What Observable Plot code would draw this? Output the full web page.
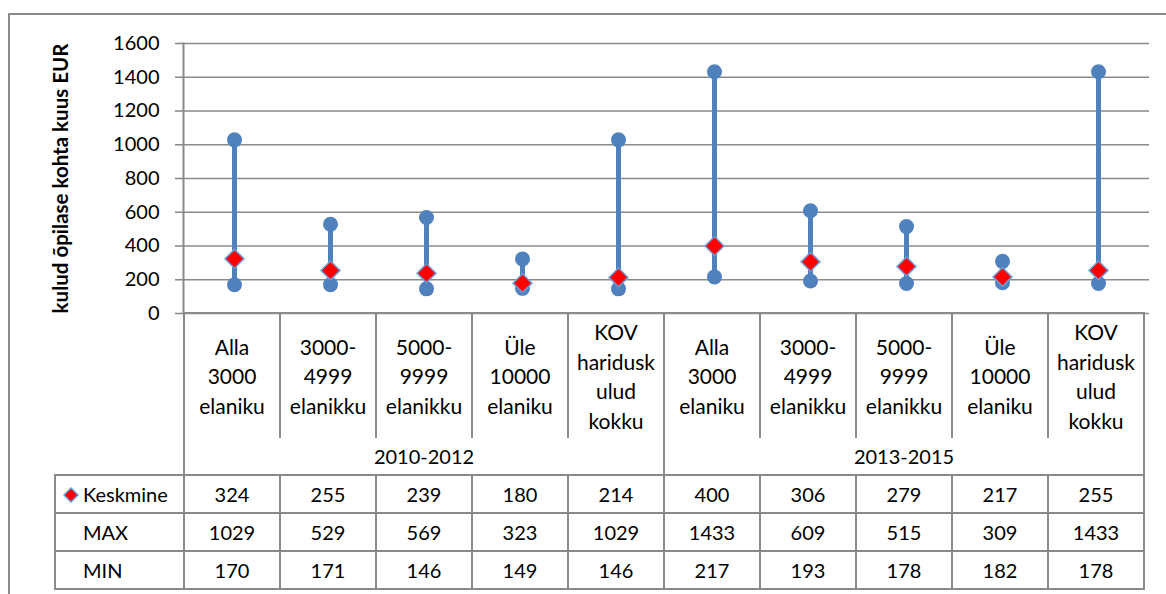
<!DOCTYPE html>
<html>
<head>
<meta charset="utf-8">
<script src="https://cdn.jsdelivr.net/npm/d3@7"></script>
<script src="https://cdn.jsdelivr.net/npm/@observablehq/plot@0.6"></script>
<style>
  html, body { margin: 0; padding: 0; background: #fff; }
  #wrap { position: relative; width: 1166px; height: 594px; overflow: hidden; font-family: Lato, "Open Sans", sans-serif; color: #000; }
  #frame { position: absolute; left: 8px; top: 13px; width: 1200px; height: 700px; border: 2px solid #8a8a8a; box-sizing: border-box; }
  #chart { position: absolute; left: 0; top: 0; }
  #tbl { position: absolute; left: 54px; top: 312px; border-collapse: collapse; table-layout: fixed; font-size: 20px; }
  #tbl td { padding: 0; text-align: center; vertical-align: middle; overflow: hidden; }
  #tbl td.cat { border-left: 2px solid #8a8a8a; border-right: 2px solid #8a8a8a; border-top: 2px solid #8a8a8a; white-space: pre-line; line-height: 29.5px; height: 124px; font-size: 21px; }
  #tbl td.grp { border-left: 2px solid #8a8a8a; border-right: 2px solid #8a8a8a; height: 36px; }
  #tbl td.val { border: 2px solid #8a8a8a; height: 36px; }
  #tbl td.rowlab { border: 2px solid #8a8a8a; text-align: left; padding-left: 27px; height: 36px; position: relative; }
  #tbl td.blank { border: none; }
  .leg { position: absolute; left: 7px; top: 11px; }
</style>
</head>
<body>
<div id="wrap">
  <div id="frame"></div>
  <div id="chart"></div>
  <table id="tbl"></table>
</div>
<script>
const periods = ["2010-2012", "2013-2015"];
const categories = ["Alla\n3000\nelaniku", "3000-\n4999\nelanikku", "5000-\n9999\nelanikku", "Üle\n10000\nelaniku", "KOV\nharidusk\nulud\nkokku"];
const keskmine = [324, 255, 239, 180, 214, 400, 306, 279, 217, 255];
const maxValues = [1029, 529, 569, 323, 1029, 1433, 609, 515, 309, 1433];
const minValues = [170, 171, 146, 149, 146, 217, 193, 178, 182, 178];
const yTicks = [0, 200, 400, 600, 800, 1000, 1200, 1400, 1600];
const yTitle = "kulud õpilase kohta kuus EUR";
const rowLabels = ["Keskmine", "MAX", "MIN"];

const data = [];
periods.forEach((p, pi) => categories.forEach((c, ci) => {
  const i = pi * categories.length + ci;
  data.push({key: p + "|" + c, period: p, cat: c, mean: keskmine[i], max: maxValues[i], min: minValues[i]});
}));

const blue = "#4F81BD";
const grid = "#8a8a8a";
const W = 1166, ML = 183, MR = 17;

const chart = Plot.plot({
  width: W,
  height: 320,
  marginTop: 43,
  marginLeft: ML,
  marginRight: MR,
  marginBottom: 7,
  style: {fontFamily: "Lato, 'Open Sans', sans-serif", fontSize: "20px", background: "transparent", overflow: "visible"},
  x: {type: "band", domain: data.map(d => d.key), padding: 0, axis: null},
  y: {domain: [0, 1600], ticks: yTicks},
  marks: [
    Plot.gridY(yTicks, {stroke: grid, strokeOpacity: 1, strokeWidth: 1.6}),
    Plot.axisY(yTicks, {tickSize: 8, tickPadding: 16, stroke: grid, strokeWidth: 1.6, fill: "#000", fontSize: 20,
      tickFormat: d => String(d),
      label: yTitle, labelAnchor: "center", labelArrow: "none", labelOffset: 130}),
    Plot.frame({anchor: "left", stroke: grid, strokeWidth: 2}),
    Plot.ruleX(data, {x: "key", y1: "min", y2: "max", stroke: blue, strokeWidth: 5}),
    Plot.dot(data, {x: "key", y: "min", r: 7.5, fill: blue}),
    Plot.dot(data, {x: "key", y: "max", r: 7.5, fill: blue}),
    Plot.dot(data, {x: "key", y: "mean", symbol: "diamond2", r: 8.5, fill: "#FF0000", stroke: "#6f9bd1", strokeWidth: 1.5})
  ]
});
document.getElementById("chart").appendChild(chart);

// style the axis title bold
d3.select(chart).selectAll("text").filter(function() { return d3.select(this).text() === yTitle; })
  .style("font-weight", "bold").style("font-size", "20.5px");

// table below the plot, aligned with the x scale bands
const xs = chart.scale("x");
let bw = xs && Number.isFinite(xs.bandwidth) && xs.bandwidth > 0 ? xs.bandwidth : (W - ML - MR) / data.length;
const tbl = d3.select("#tbl");
const firstW = 129;
const tw = firstW + bw * data.length;
tbl.style("width", tw + "px");
const cg = tbl.append("colgroup");
cg.append("col").attr("width", firstW).style("width", firstW + "px");
data.forEach(() => cg.append("col").attr("width", bw).style("width", bw + "px"));
const tb = tbl.append("tbody");

const r1 = tb.append("tr");
r1.append("td").attr("class", "blank");
data.forEach(d => r1.append("td").attr("class", "cat").text(d.cat));

const r2 = tb.append("tr");
r2.append("td").attr("class", "blank");
periods.forEach(p => r2.append("td").attr("class", "grp").attr("colspan", categories.length).text(p));

const rows = [keskmine, maxValues, minValues];
rows.forEach((vals, ri) => {
  const tr = tb.append("tr");
  const lab = tr.append("td").attr("class", "rowlab").text(rowLabels[ri]);
  if (ri === 0) {
    lab.append(() => {
      const s = d3.create("svg").attr("class", "leg").attr("width", 16).attr("height", 16);
      s.append("path").attr("d", "M8,1 L15,8 L8,15 L1,8 Z").attr("fill", "#FF0000").attr("stroke", "#6f9bd1").attr("stroke-width", 1.5);
      return s.node();
    });
  }
  vals.forEach(v => tr.append("td").attr("class", "val").text(v));
});
</script>
</body>
</html>
